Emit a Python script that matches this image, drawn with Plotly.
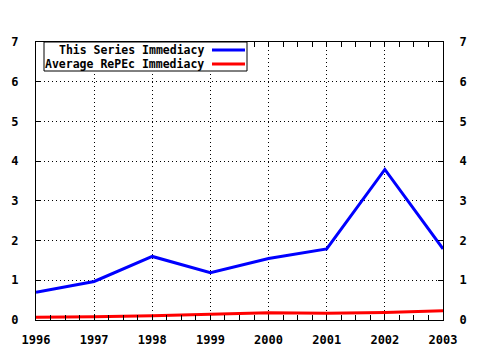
import plotly.graph_objects as go

years = [1996, 1997, 1998, 1999, 2000, 2001, 2002, 2003]
series_immediacy = [0.70, 0.97, 1.60, 1.19, 1.55, 1.79, 3.79, 1.79]
repec_immediacy = [0.07, 0.08, 0.11, 0.15, 0.18, 0.17, 0.19, 0.23]
legend_names = ["This Series Immediacy", "Average RePEc Immediacy"]
line_colors = ["#0000ff", "#ff0000"]

TICK_FONT = dict(family="DejaVu Sans Mono", size=12, color="black", weight="bold")

fig = go.Figure()
fig.add_trace(go.Scatter(x=years, y=series_immediacy, mode="lines",
                         line=dict(color=line_colors[0], width=3),
                         name=legend_names[0], yaxis="y"))
fig.add_trace(go.Scatter(x=years, y=repec_immediacy, mode="lines",
                         line=dict(color=line_colors[1], width=3),
                         name=legend_names[1], yaxis="y2"))

axis_common = dict(showline=True, linecolor="black", linewidth=1,
                   ticks="inside", ticklen=5, tickcolor="black",
                   showgrid=True, gridcolor="black", griddash="1px,3px", gridwidth=1,
                   zeroline=False, tickfont=TICK_FONT, automargin=False)

fig.update_layout(
    width=480, height=350,
    margin=dict(l=36, r=37, t=42, b=30),
    paper_bgcolor="white", plot_bgcolor="white",
    showlegend=False,
    xaxis=dict(range=[1996, 2003], tickmode="array", tickvals=years,
               ticktext=[str(y) for y in years], mirror="allticks",
               ticklabelstandoff=9,
               minor=dict(ticks="inside", dtick=0.25, ticklen=3, tickcolor="black",
                          showgrid=False),
               **axis_common),
    yaxis=dict(range=[0, 7], dtick=1, mirror=True, ticklabelstandoff=14,
               **axis_common),
    yaxis2=dict(range=[0, 7], dtick=1, overlaying="y", side="right",
                showline=True, linecolor="black", ticks="inside", ticklen=5,
                tickcolor="black", showgrid=False, zeroline=False, automargin=False,
                ticklabelstandoff=13, tickfont=TICK_FONT),
)

# Legend box laid out in plot-pixel terms
pw, ph = 480 - 36 - 37, 350 - 42 - 30


def px(x):
    return (x - 36) / pw


def py(y):
    return 1 - (y - 42) / ph


fig.add_shape(type="rect", xref="paper", yref="paper",
              x0=px(44), x1=px(247), y0=py(71), y1=py(42),
              line=dict(color="black", width=1), fillcolor="white", layer="above")
for i, (name, col) in enumerate(zip(legend_names, line_colors)):
    yc = 50 + i * 14
    fig.add_annotation(x=px(205), y=py(yc), xref="paper", yref="paper",
                       text=name, showarrow=False, xanchor="right", yanchor="middle",
                       borderpad=0,
                       font=dict(family="DejaVu Sans Mono", size=11.5, color="black",
                                 weight="bold"))
    fig.add_shape(type="line", xref="paper", yref="paper",
                  x0=px(212), x1=px(245), y0=py(yc), y1=py(yc),
                  line=dict(color=col, width=3), layer="above")

fig.write_html("out.html")
